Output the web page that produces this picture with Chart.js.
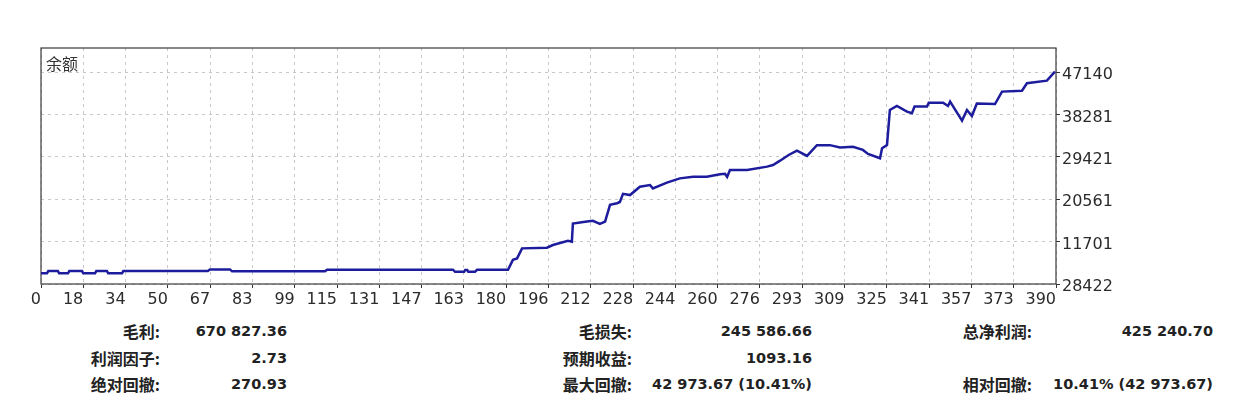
<!DOCTYPE html>
<html>
<head>
    <meta charset="utf-8">
    <title>余额</title>
    <script src="https://cdn.jsdelivr.net/npm/chart.js"></script>
    <style>
        body {
            margin: 0;
            background: #ffffff;
            width: 1240px;
            height: 400px;
            position: relative;
            overflow: hidden;
        }
        .chart-box {
            position: absolute;
            left: 0;
            top: 0;
            width: 1240px;
            height: 310px;
        }
        .stat {
            position: absolute;
            font-weight: bold;
            color: #222;
            white-space: nowrap;
            line-height: 20px;
            transform: translateY(-50%);
        }
        .lbl {
            font-family: "Noto Sans CJK SC", "DejaVu Sans", sans-serif;
            font-size: 16px;
            text-align: right;
        }
        .val {
            font-family: "DejaVu Sans", sans-serif;
            font-size: 14.5px;
            text-align: right;
        }
    </style>
</head>
<body>
    <div class="chart-box">
        <canvas id="balanceChart"></canvas>
    </div>
    <div id="stats"></div>

    <script>
        // balance curve (trade number -> balance)
        const tradeNo = [0, 2.3, 2.8, 6.5, 7, 10.4, 10.9, 15.8, 16.3, 20.8, 21.3, 25.4, 25.9, 31.2, 31.7,
            64.3, 65.1, 72.8, 73.6, 109.4, 110.2, 158.7, 159.5, 163, 163.4, 164.2, 164.6, 167.2, 168,
            179.9, 181.8, 183.4, 185.3, 194.9, 197.2, 203, 204.5, 204.9, 210.3, 212.6, 215.3, 217.3,
            219.2, 221.9, 223, 224.2, 226.9, 230.7, 234.6, 235.7, 241.1, 246.1, 251.2, 256.5, 261.6,
            263.5, 264.3, 265.4, 272, 279.7, 282, 284.7, 288, 291.2, 295.1, 298.9, 303.9, 307.8,
            312.8, 316.6, 318.6, 323.2, 324, 325.9, 327, 329.7, 333.6, 335.5, 336.5, 341.3, 342,
            347.5, 349.4, 350.2, 354.8, 356.7, 358.6, 360.5, 367.5, 370.2, 377.9, 379.8, 387.5, 390.6];
        const balance = [5080, 5080, 5560, 5560, 5080, 5080, 5560, 5560, 5080, 5080, 5560, 5560, 5080, 5080, 5560,
            5560, 5900, 5900, 5500, 5500, 5830, 5830, 5400, 5400, 5770, 5770, 5400, 5400, 5800,
            5800, 7900, 8200, 10300, 10450, 11000, 11900, 11700, 15500, 15900, 16050, 15400, 15900,
            19400, 19750, 20000, 21700, 21450, 23200, 23550, 22850, 24050, 24950, 25300, 25300, 25800,
            25900, 25250, 26700, 26700, 27400, 27750, 28650, 29840, 30740, 29650, 31900, 31900, 31400,
            31550, 30900, 30050, 29150, 31250, 31900, 39260, 40100, 38900, 38570, 39960, 39960, 40790,
            40790, 40100, 41000, 37030, 39260, 38000, 40600, 40500, 43100, 43300, 44850, 45400, 47280];

        const xTickLabels = ['0', '18', '34', '50', '67', '83', '99', '115', '131', '147', '163', '180', '196',
            '212', '228', '244', '260', '276', '293', '309', '325', '341', '357', '373', '390'];
        const yTickValues = [2842, 11702, 20562, 29422, 38282, 47142];
        const yTickLabels = ['28422', '11701', '20561', '29421', '38281', '47140'];
        const xMax = 391;
        const yMin = 2842;
        const yMax = 52227;

        const statLabels = [
            ['毛利:', '毛损失:', '总净利润:'],
            ['利润因子:', '预期收益:', ''],
            ['绝对回撤:', '最大回撤:', '相对回撤:']
        ];
        const statValues = [
            ['670 827.36', '245 586.66', '425 240.70'],
            ['2.73', '1093.16', ''],
            ['270.93', '42 973.67 (10.41%)', '10.41% (42 973.67)']
        ];

        // stats block under the chart
        const labelRight = [160, 632, 1032];
        const valueRight = [287, 812, 1213];
        const rowY = [331, 357.5, 384];
        const stats = document.getElementById('stats');
        statLabels.forEach((row, r) => {
            row.forEach((txt, c) => {
                if (!txt) return;
                const l = document.createElement('div');
                l.className = 'stat lbl';
                l.textContent = txt;
                l.style.right = (1240 - labelRight[c]) + 'px';
                l.style.top = rowY[r] + 'px';
                stats.appendChild(l);
                const v = document.createElement('div');
                v.className = 'stat val';
                v.textContent = statValues[r][c];
                v.style.right = (1240 - valueRight[c]) + 'px';
                v.style.top = rowY[r] + 'px';
                stats.appendChild(v);
            });
        });

        // frame round the plot area and the caption in its corner
        const framePlugin = {
            id: 'frame',
            beforeDatasetsDraw(chart) {
                const a = chart.chartArea;
                const ctx = chart.ctx;
                ctx.save();
                ctx.setLineDash([]);
                ctx.strokeStyle = '#3a3a3a';
                ctx.lineWidth = 1.2;
                ctx.strokeRect(a.left, a.top, a.right - a.left, a.bottom - a.top);
                ctx.fillStyle = '#333';
                ctx.font = '16px "Noto Sans CJK SC", sans-serif';
                ctx.textBaseline = 'top';
                ctx.textAlign = 'left';
                ctx.fillText('余额', a.left + 5, a.top + 8);
                ctx.restore();
            }
        };

        const points = tradeNo.map((t, i) => ({x: t, y: balance[i]}));

        new Chart(document.getElementById('balanceChart'), {
            type: 'line',
            data: {
                datasets: [{
                    label: '余额',
                    data: points,
                    borderColor: '#1c1c9c',
                    borderWidth: 2.5,
                    pointRadius: 0,
                    tension: 0,
                    fill: false
                }]
            },
            options: {
                responsive: true,
                maintainAspectRatio: false,
                animation: false,
                layout: {
                    padding: {left: 41, top: 48, right: 0, bottom: 0}
                },
                plugins: {
                    legend: {display: false},
                    tooltip: {enabled: false},
                    title: {display: false}
                },
                scales: {
                    x: {
                        type: 'linear',
                        min: 0,
                        max: xMax,
                        afterBuildTicks: s => {
                            s.ticks = xTickLabels.map((_, i) => ({value: i * xMax / 24}));
                        },
                        afterFit: s => { s.height = 26; },
                        ticks: {
                            autoSkip: false,
                            maxRotation: 0,
                            align: 'end',
                            padding: 2,
                            color: '#2b2b2b',
                            font: {family: 'DejaVu Sans', size: 16},
                            callback: (v, i) => xTickLabels[i]
                        },
                        grid: {
                            color: '#c8c8c8',
                            lineWidth: 1,
                            tickLength: 4,
                            tickColor: '#333',
                            tickBorderDash: []
                        },
                        border: {display: false, dash: [3, 4]}
                    },
                    y: {
                        type: 'linear',
                        position: 'right',
                        min: yMin,
                        max: yMax,
                        afterBuildTicks: s => {
                            s.ticks = yTickValues.map(v => ({value: v}));
                        },
                        afterFit: s => { s.width = 184; },
                        ticks: {
                            padding: 2,
                            labelOffset: 3,
                            color: '#2b2b2b',
                            font: {family: 'DejaVu Sans', size: 16},
                            callback: (v, i) => yTickLabels[i]
                        },
                        grid: {
                            color: '#c8c8c8',
                            lineWidth: 1,
                            tickLength: 4,
                            tickColor: '#333',
                            tickBorderDash: []
                        },
                        border: {display: false, dash: [3, 4]}
                    }
                }
            },
            plugins: [framePlugin]
        });
    </script>
</body>
</html>
